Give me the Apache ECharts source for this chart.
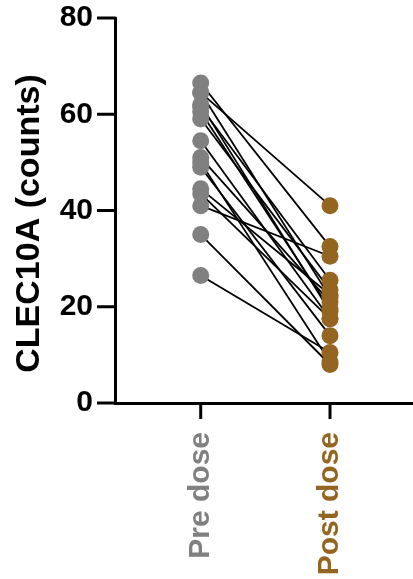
<!DOCTYPE html>
<html>
<head>
<meta charset="utf-8">
<script src="https://cdn.jsdelivr.net/npm/echarts@6/dist/echarts.min.js"></script>
<style>
html,body{margin:0;padding:0;background:#fff;}
#c{width:413px;height:579px;}
</style>
</head>
<body>
<div id="c"></div>
<script>
// Data (paired samples)
var groups = ['Pre dose', 'Post dose'];
var preValues  = [66.5, 64.5, 64.5, 61.5, 60.5, 59, 54.5, 51, 49, 44.5, 43.5, 41, 35, 26.5, 50, 62];
var postValues = [32.5, 41, 22, 25.5, 19.5, 23.5, 17.5, 21, 14, 22.5, 17.5, 30.5, 8, 10.5, 8.5, 19];
var yTicks = [0, 20, 40, 60, 80];
var groupColors = ['#808080', '#946521'];

var FONT = 'Liberation Sans, Arial, sans-serif';
var X_MIN = -0.663, X_MAX = 1.642;

var series = [];
for (var i = 0; i < preValues.length; i++) {
  series.push({
    type: 'line',
    data: [[0, preValues[i]], [1, postValues[i]]],
    symbol: 'none',
    lineStyle: {color: '#000', width: 1.8},
    z: 2,
    silent: true
  });
}
series.push({
  type: 'scatter',
  data: preValues.map(function (v) { return [0, v]; }),
  symbolSize: 17,
  itemStyle: {color: groupColors[0], opacity: 1},
  z: 3
});
series.push({
  type: 'scatter',
  data: postValues.map(function (v) { return [1, v]; }),
  symbolSize: 17,
  itemStyle: {color: groupColors[1], opacity: 1},
  z: 3
});
// axis tick marks, placed on the axes through the chart's scales
series.push({
  type: 'scatter', silent: true, clip: false, z: 10,
  data: yTicks.map(function (v) { return [X_MIN, v]; }),
  symbol: 'rect', symbolSize: [18, 3], symbolOffset: [-9, 0],
  itemStyle: {color: '#000', opacity: 1}
});
series.push({
  type: 'scatter', silent: true, clip: false, z: 10,
  data: [[0, yTicks[0]], [1, yTicks[0]]],
  symbol: 'rect', symbolSize: [3, 16], symbolOffset: [0, 8],
  itemStyle: {color: '#000', opacity: 1}
});

var chart = echarts.init(document.getElementById('c'), null, {renderer: 'canvas'});
chart.setOption({
  animation: false,
  backgroundColor: '#fff',
  grid: {left: 115, right: 0, top: 18, bottom: 176, containLabel: false},
  xAxis: {
    type: 'value',
    min: X_MIN,
    max: X_MAX,
    splitLine: {show: false},
    axisLine: {show: true, onZero: false, lineStyle: {color: '#000', width: 3}},
    axisTick: {show: false},
    axisLabel: {
      show: true,
      customValues: [0, 1],
      rotate: 90,
      margin: 29,
      formatter: function (v) {
        var idx = Math.round(v);
        return '{g' + idx + '|' + groups[idx] + '}';
      },
      rich: {
        g0: {color: groupColors[0], fontSize: 30, fontWeight: 'bold', fontFamily: FONT},
        g1: {color: groupColors[1], fontSize: 30, fontWeight: 'bold', fontFamily: FONT}
      }
    }
  },
  yAxis: {
    type: 'value',
    min: yTicks[0],
    max: yTicks[yTicks.length - 1],
    interval: 20,
    name: 'CLEC10A (counts)',
    nameLocation: 'middle',
    nameGap: 68,
    nameTextStyle: {color: '#000', fontSize: 34, fontWeight: 'bold', fontFamily: FONT, padding: [0, 26, 0, 0]},
    splitLine: {show: false},
    axisLine: {show: true, onZero: false, lineStyle: {color: '#000', width: 3}},
    axisTick: {show: false},
    axisLabel: {
      margin: 22,
      color: '#000',
      fontSize: 30,
      fontWeight: 'bold',
      fontFamily: FONT
    }
  },
  series: series
});
</script>
</body>
</html>
